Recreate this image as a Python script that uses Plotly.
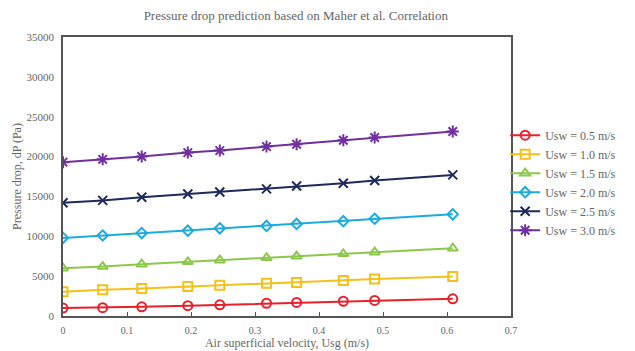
import plotly.graph_objects as go

usg = [0, 0.062, 0.123, 0.195, 0.245, 0.318, 0.365, 0.438, 0.487, 0.609]
series_names = ["Usw = 0.5 m/s", "Usw = 1.0 m/s", "Usw = 1.5 m/s",
                "Usw = 2.0 m/s", "Usw = 2.5 m/s", "Usw = 3.0 m/s"]
dp_05 = [1000, 1050, 1150, 1300, 1400, 1600, 1700, 1850, 1950, 2150]
dp_10 = [3050, 3300, 3450, 3700, 3850, 4100, 4200, 4450, 4650, 4950]
dp_15 = [6000, 6200, 6500, 6800, 7000, 7300, 7500, 7800, 8000, 8500]
dp_20 = [9800, 10100, 10400, 10700, 11000, 11300, 11550, 11900, 12200, 12750]
dp_25 = [14200, 14500, 14900, 15300, 15550, 15950, 16300, 16650, 17000, 17700]
dp_30 = [19300, 19650, 20000, 20500, 20750, 21250, 21550, 22050, 22400, 23150]
x_ticks = [0, 0.1, 0.2, 0.3, 0.4, 0.5, 0.6, 0.7]
x_tick_labels = ["0", "0.1", "0.2", "0.3", "0.4", "0.5", "0.6", "0.7"]

all_series = [dp_05, dp_10, dp_15, dp_20, dp_25, dp_30]
colors = ["#E8202A", "#F5C01A", "#8CC84B", "#1CABE0", "#1F2A5C", "#7030A0"]
symbols = ["circle-open", "square-open", "triangle-up-open", "diamond-open",
           "x-thin-open", "asterisk-open"]
sizes = [9, 9, 9, 8, 9, 10]

font = "Liberation Serif, Times New Roman, serif"
gray = "#666666"

fig = go.Figure()
for name, ys, c, s, sz in zip(series_names, all_series, colors, symbols, sizes):
    fig.add_trace(go.Scatter(
        x=usg, y=ys, name=name, mode="lines+markers",
        line=dict(color=c, width=2),
        marker=dict(symbol=s, size=sz, color=c, line=dict(color=c, width=2)),
    ))

fig.update_layout(
    width=627, height=343,
    margin=dict(l=55, r=124, t=29, b=35, autoexpand=False),
    paper_bgcolor="white", plot_bgcolor="white",
    font=dict(family=font, color=gray, size=11),
    title=dict(text="Pressure drop prediction based on Maher et al. Correlation",
               x=0.459, xanchor="center", y=0.977, yanchor="middle",
               font=dict(family=font, size=13, color=gray)),
    showlegend=True,
    legend=dict(x=0.987, y=0.7, xanchor="left", yanchor="top",
                font=dict(family=font, size=12, color=gray),
                bgcolor="rgba(0,0,0,0)", tracegroupgap=0, itemwidth=30),
)
fig.update_xaxes(range=[0, 0.7], tickvals=x_ticks, ticktext=x_tick_labels,
                 showgrid=False, zeroline=False, automargin=False,
                 showline=True, linecolor="#555555", linewidth=1.5, mirror=True,
                 ticks="inside", ticklen=4, tickcolor="#555555",
                 ticklabelstandoff=4,
                 tickfont=dict(size=10, color=gray),
                 title=dict(text="Air superficial velocity, Usg (m/s)",
                            font=dict(family=font, size=12, color=gray), standoff=2))
fig.update_yaxes(range=[0, 35000], dtick=5000, tickformat="d",
                 showgrid=False, zeroline=False, automargin=False,
                 showline=True, linecolor="#555555", linewidth=1.5, mirror=True,
                 ticks="", ticklabelstandoff=5, tickfont=dict(size=11, color=gray),
                 title=dict(text="Pressure drop, dP (Pa)",
                            font=dict(family=font, size=12, color=gray), standoff=2))

fig.write_html("out.html")
